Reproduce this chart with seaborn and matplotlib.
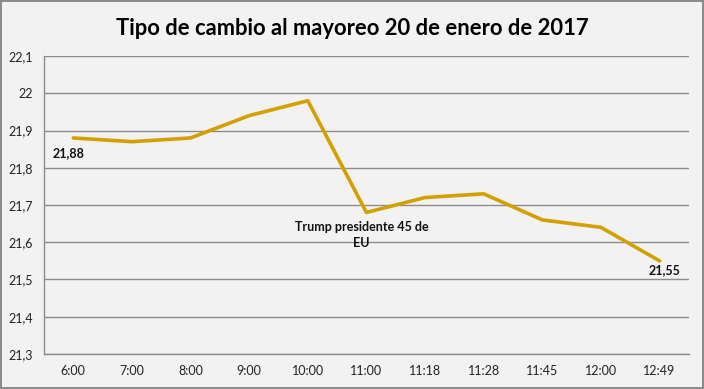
import matplotlib.pyplot as plt
import pandas as pd
import seaborn as sns
from matplotlib.ticker import FixedLocator, FuncFormatter

horas = ["6:00", "7:00", "8:00", "9:00", "10:00", "11:00", "11:18", "11:28", "11:45", "12:00", "12:49"]
tipo_cambio = [21.88, 21.87, 21.88, 21.94, 21.98, 21.68, 21.72, 21.73, 21.66, 21.64, 21.55]
y_ticks = [21.3, 21.4, 21.5, 21.6, 21.7, 21.8, 21.9, 22.0, 22.1]

BG = "#F2F2F2"
GRID = "#8C8C8C"
LINE = "#D4A000"

sns.set_theme(style="white")
plt.rcParams["font.family"] = ["Lato", "DejaVu Sans"]

df = pd.DataFrame({"pos": range(len(horas)), "valor": tipo_cambio})

fig = plt.figure(figsize=(7.04, 3.89), dpi=100, facecolor=BG, edgecolor="#8C8C8C", linewidth=1.5)
ax = fig.add_axes([0.0625, 0.09, 0.916, 0.766])
ax.set_facecolor(BG)

sns.lineplot(data=df, x="pos", y="valor", ax=ax, color=LINE, linewidth=2.6)

ax.set_xlim(-0.5, len(horas) - 0.5)
ax.set_ylim(21.3, 22.1)
ax.yaxis.set_major_locator(FixedLocator(y_ticks))
ax.yaxis.set_major_formatter(FuncFormatter(lambda v, _: f"{v:g}".replace(".", ",")))
ax.grid(axis="y", color=GRID, linewidth=1)
ax.set_axisbelow(True)

# labels at category centres, tick marks at boundaries
ax.set_xticks(range(len(horas)))
ax.set_xticklabels(horas, fontsize=9, color="#222222")
ax.set_xticks([i - 0.5 for i in range(len(horas) + 1)], minor=True)
ax.tick_params(axis="x", which="major", length=0, pad=8)
ax.tick_params(axis="x", which="minor", length=5, color=GRID, direction="out")
ax.tick_params(axis="y", which="major", length=5, color=GRID, direction="out", labelsize=9, labelcolor="#222222", pad=3)

for side in ["top", "right"]:
    ax.spines[side].set_visible(False)
for side in ["left", "bottom"]:
    ax.spines[side].set_color(GRID)
    ax.spines[side].set_linewidth(1)

ax.set_xlabel("")
ax.set_ylabel("")

ax.text(-0.08, tipo_cambio[0] - 0.04, "21,88", fontsize=9, fontweight="bold", ha="center", va="center", color="#111111")
ax.text(4.92, tipo_cambio[5] - 0.06, "Trump presidente 45 de\nEU", fontsize=9, fontweight="bold",
        ha="center", va="center", color="#111111", linespacing=1.4)
ax.text(10.08, tipo_cambio[10] - 0.025, "21,55", fontsize=9, fontweight="bold", ha="center", va="center", color="#111111")

fig.text(0.5, 0.928, "Tipo de cambio al mayoreo 20 de enero de 2017", fontsize=15.8, fontweight="bold",
         ha="center", va="center", color="#000000")

fig.savefig("out.png", dpi=100, facecolor=BG, edgecolor="#8C8C8C")
